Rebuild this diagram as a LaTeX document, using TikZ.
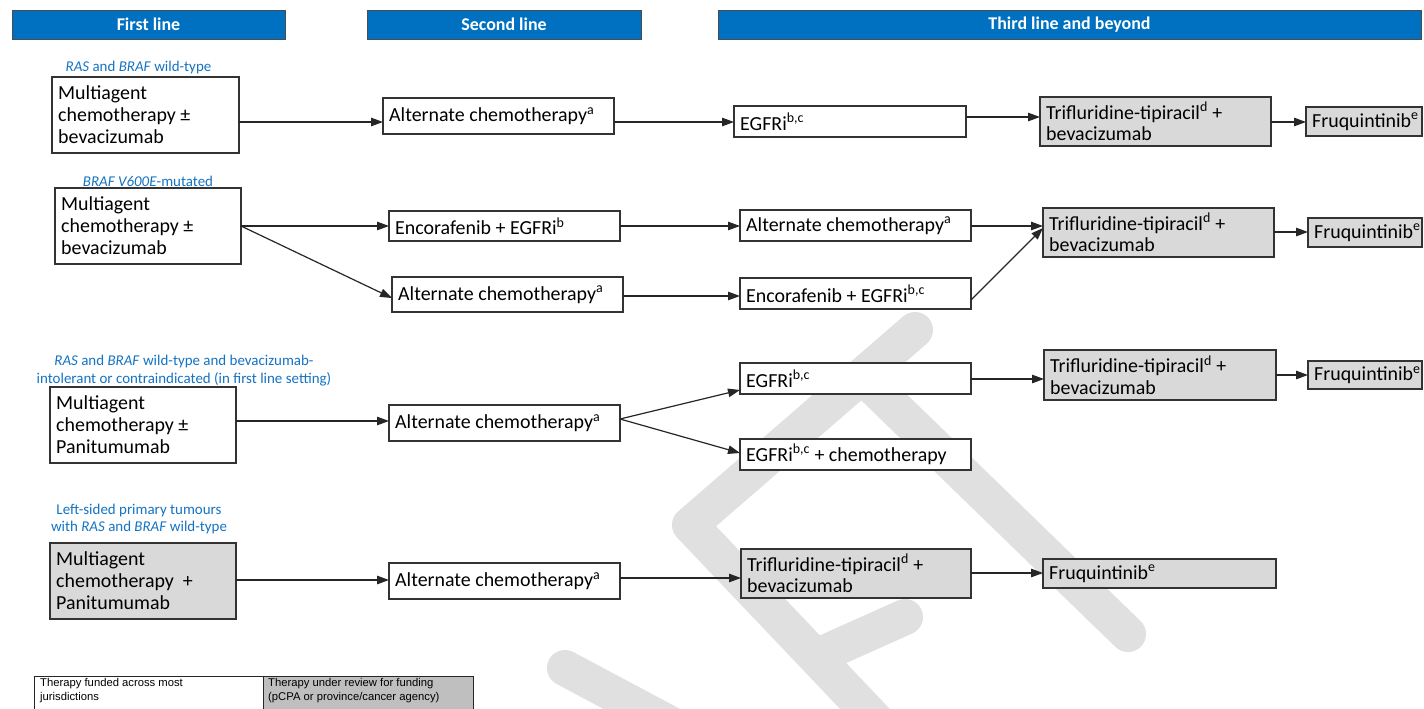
\documentclass[tikz,border=0pt]{standalone}
\usepackage{fontspec}
\setmainfont{Carlito}
\newfontfamily\legfont{Liberation Sans}
\usetikzlibrary{arrows.meta}
\definecolor{hdrblue}{RGB}{0,112,192}
\definecolor{lblblue}{RGB}{20,115,195}
\definecolor{boxgray}{RGB}{217,217,217}
\definecolor{leggray}{RGB}{191,191,191}
\definecolor{wmgray}{RGB}{224,224,224}
\newcommand\mybox[7]{%
  \pgfmathsetmacro\bxw{#4-#2}\pgfmathsetmacro\bxh{#5-#3}%
  \node[#6, minimum width=\bxw bp, minimum height=\bxh bp] (#1) at ({(#2+#4)/2},{(#3+#5)/2}) {};
  \node[boxtxt] (#1-t) at ([xshift=6bp]#1.west) {#7};}
\begin{document}
\begin{tikzpicture}[x=1bp,y=-1bp,
  hdr/.style={draw=black!70, line width=0.8bp, fill=hdrblue, text=white,
    font=\fontsize{18}{20}\selectfont\bfseries, inner sep=0pt},
  lbl/.style={text=lblblue, font=\fontsize{15}{18}\selectfont, inner sep=0pt},
  wbox/.style={draw=black!80, line width=1.1bp, fill=white, inner sep=0pt, outer sep=0pt},
  gbox/.style={wbox, fill=boxgray},
  boxtxt/.style={anchor=west, align=left, inner sep=0pt, font=\fontsize{20}{22}\selectfont},
  arr/.style={draw=black!85, line width=1.2bp, -{Triangle[length=12bp,width=8.5bp]}},
  legcell/.style={draw=black!85, line width=0.8bp, inner sep=0pt, outer sep=0pt},
  legtxt/.style={anchor=north west, align=left, inner sep=0pt, font=\legfont\fontsize{11.3}{14}\selectfont}
]
\useasboundingbox (0,0) rectangle (1424,709);
\fill[white] (0,0) rectangle (1424,709);
% watermark (part of a rotated "DRAFT")
\begin{scope}[wmgray, line width=36bp, line cap=round, line join=round]
  \draw (915,330) -- (690,525) -- (885,730);
  \draw (820,655) -- (905,617);
  \draw (862,376) -- (1128,634);
  \draw (565,668) -- (700,740);
\end{scope}
% headers
\node[hdr, minimum width=273bp, minimum height=29bp] (h1) at (148.5,24.5) {First line};
\node[hdr, minimum width=274bp, minimum height=29bp] (h2) at (504,24.5) {Second line};
\node[hdr, minimum width=703bp, minimum height=29bp] (h3) at (1069.5,24.5) {Third line and beyond};
% labels
\node[lbl] (l1) at (138.5,68) {\textit{RAS} and \textit{BRAF} wild-type};
\node[lbl] (l2) at (148,181) {\textit{BRAF V600E}-mutated};
\node[lbl, align=center] (l3) at (184,371) {\textit{RAS} and \textit{BRAF} wild-type and bevacizumab-\\intolerant or contraindicated (in first line setting)};
\node[lbl, align=center] (l4) at (139,519) {Left-sided primary tumours\\with \textit{RAS} and \textit{BRAF} wild-type};
% row 1
\mybox{b1}{52}{77}{239}{153}{wbox}{Multiagent\\chemotherapy ±\\bevacizumab}
\mybox{a1}{383}{98}{614}{134}{wbox}{Alternate chemotherapy\textsuperscript{a}}
\mybox{e1}{734}{106}{966}{137}{wbox}{EGFRi\textsuperscript{b,c}}
\mybox{t1}{1040}{97}{1271}{146}{gbox}{Trifluridine-tipiracil\textsuperscript{d} +\\bevacizumab}
\mybox{f1}{1306}{107}{1422}{136}{gbox}{Fruquintinib\textsuperscript{e}}
% row 2
\mybox{b2}{55}{188}{241}{264}{wbox}{Multiagent\\chemotherapy ±\\bevacizumab}
\mybox{enc2}{389}{211}{620}{241}{wbox}{Encorafenib + EGFRi\textsuperscript{b}}
\mybox{alt2}{392}{277}{623}{312}{wbox}{Alternate chemotherapy\textsuperscript{a}}
\mybox{alt3}{740}{210}{971}{241}{wbox}{Alternate chemotherapy\textsuperscript{a}}
\mybox{enc3}{740}{278}{971}{309}{wbox}{Encorafenib + EGFRi\textsuperscript{b,c}}
\mybox{tr2}{1043}{208}{1274}{257}{gbox}{Trifluridine-tipiracil\textsuperscript{d} +\\bevacizumab}
\mybox{fr2}{1308}{218}{1422}{247}{gbox}{Fruquintinib\textsuperscript{e}}
% row 3
\mybox{b3}{50}{387}{236}{463}{wbox}{Multiagent\\chemotherapy ±\\Panitumumab}
\mybox{alt4}{389}{405}{620}{441}{wbox}{Alternate chemotherapy\textsuperscript{a}}
\mybox{eg3}{740}{363}{971}{394}{wbox}{EGFRi\textsuperscript{b,c}}
\mybox{egc3}{740}{439}{971}{470}{wbox}{EGFRi\textsuperscript{b,c} + chemotherapy}
\mybox{tr3}{1044}{350}{1276}{400}{gbox}{Trifluridine-tipiracil\textsuperscript{d} +\\bevacizumab}
\mybox{fr3}{1308}{361}{1422}{389}{gbox}{Fruquintinib\textsuperscript{e}}
% row 4
\mybox{b4}{50}{543}{236}{619}{gbox}{Multiagent\\chemotherapy~~+\\Panitumumab}
\mybox{alt5}{389}{563}{620}{599}{wbox}{Alternate chemotherapy\textsuperscript{a}}
\mybox{tr4}{741}{549}{971}{598}{gbox}{Trifluridine-tipiracil\textsuperscript{d} +\\bevacizumab}
\mybox{fr4}{1043}{559}{1276}{588}{gbox}{Fruquintinib\textsuperscript{e}}
% connectors row 1
\draw[arr] (b1.east |- 0,122) -- (a1.west |- 0,122);
\draw[arr] (a1.east |- 0,122) -- (e1.west |- 0,122);
\draw[arr] (e1.east |- 0,117) -- (t1.west |- 0,117);
\draw[arr] (t1.east |- 0,122) -- (f1.west |- 0,122);
% row 2
\draw[arr] (b2.east |- 0,226) -- (enc2.west |- 0,226);
\draw[arr] (b2.east |- 0,226) -- (alt2.west |- 0,298);
\draw[arr] (enc2.east |- 0,226) -- (alt3.west |- 0,226);
\draw[arr] (alt2.east |- 0,296) -- (enc3.west |- 0,296);
\draw[arr] (alt3.east |- 0,226) -- (tr2.west |- 0,226);
\draw[arr] (enc3.east |- 0,300) -- (tr2.west |- 0,228);
\draw[arr] (tr2.east |- 0,232) -- (fr2.west |- 0,232);
% row 3
\draw[arr] (b3.east |- 0,421) -- (alt4.west |- 0,421);
\draw[arr] (alt4.east |- 0,419) -- (eg3.west |- 0,390);
\draw[arr] (alt4.east |- 0,419) -- (egc3.west |- 0,453);
\draw[arr] (eg3.east |- 0,379) -- (tr3.west |- 0,379);
\draw[arr] (tr3.east |- 0,375) -- (fr3.west |- 0,375);
% row 4
\draw[arr] (b4.east |- 0,580) -- (alt5.west |- 0,580);
\draw[arr] (alt5.east |- 0,578) -- (tr4.west |- 0,578);
\draw[arr] (tr4.east |- 0,573) -- (fr4.west |- 0,573);
% legend
\node[legcell, fill=white, minimum width=229bp, minimum height=36bp] (lg1) at (148.5,694) {};
\node[legcell, fill=leggray, minimum width=210bp, minimum height=36bp] (lg2) at (368,694) {};
\node[legtxt] (lg1-t) at ([xshift=6bp,yshift=-2.5bp]lg1.north west) {Therapy funded across most\\jurisdictions};
\node[legtxt] (lg2-t) at ([xshift=5bp,yshift=-2.5bp]lg2.north west) {Therapy under review for funding\\(pCPA or province/cancer agency)};
\end{tikzpicture}
\end{document}
